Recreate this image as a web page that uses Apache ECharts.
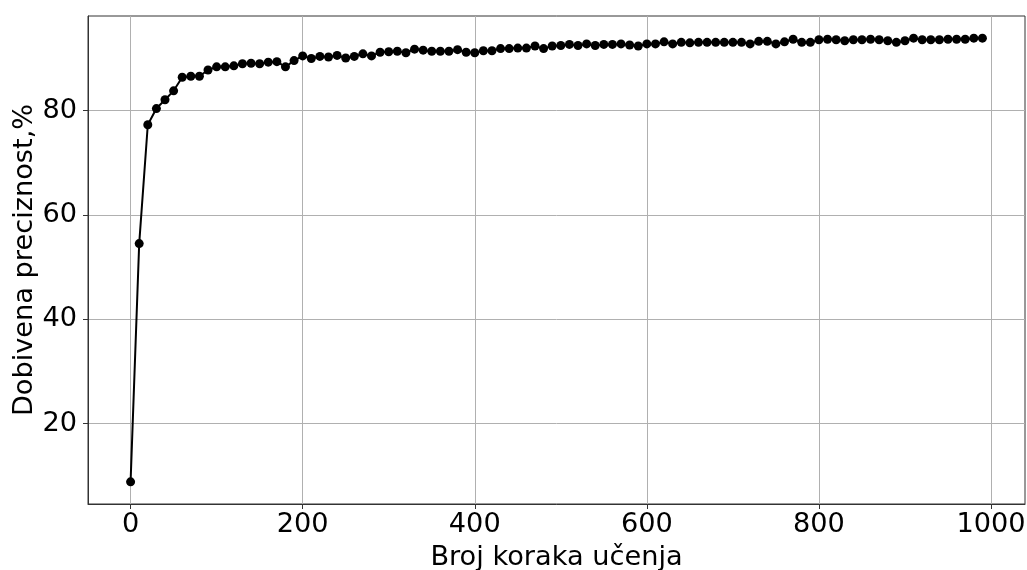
<!DOCTYPE html>
<html>
<head>
<meta charset="utf-8">
<script src="https://cdn.jsdelivr.net/npm/echarts@6/dist/echarts.min.js"></script>
<style>
html,body{margin:0;padding:0;background:#fff;}
#c{width:1027px;height:570px;}
</style>
</head>
<body>
<div id="c"></div>
<script>
var steps = [0,10,20,30,40,50,60,70,80,90,100,110,120,130,140,150,160,170,180,190,
200,210,220,230,240,250,260,270,280,290,300,310,320,330,340,350,360,370,380,390,
400,410,420,430,440,450,460,470,480,490,500,510,520,530,540,550,560,570,580,590,
600,610,620,630,640,650,660,670,680,690,700,710,720,730,740,750,760,770,780,790,
800,810,820,830,840,850,860,870,880,890,900,910,920,930,940,950,960,970,980,990];
var accuracy = [8.8,54.5,77.3,80.4,82.1,83.8,86.4,86.6,86.6,87.8,
88.4,88.4,88.6,89.0,89.1,89.0,89.3,89.4,88.4,89.6,
90.5,90.0,90.4,90.3,90.6,90.1,90.4,90.9,90.5,91.2,
91.3,91.4,91.1,91.8,91.6,91.4,91.4,91.4,91.7,91.2,
91.1,91.5,91.5,91.9,91.9,92.0,92.0,92.4,91.9,92.4,
92.5,92.7,92.5,92.8,92.5,92.7,92.7,92.8,92.6,92.4,
92.8,92.8,93.2,92.8,93.1,93.0,93.1,93.1,93.1,93.1,
93.1,93.1,92.8,93.3,93.3,92.8,93.2,93.7,93.1,93.1,
93.6,93.7,93.6,93.4,93.6,93.6,93.7,93.6,93.4,93.1,
93.4,93.9,93.6,93.6,93.6,93.7,93.7,93.7,93.9,93.9];
var xTicks = [0,200,400,600,800,1000];
var yTicks = [20,40,60,80];
var xLabel = 'Broj koraka učenja';
var yLabel = 'Dobivena preciznost,%';

var pts = steps.map(function(s,i){return [s, accuracy[i]];});
var xmin0 = steps[0], xmax0 = steps[steps.length-1];
var ymin0 = Math.min.apply(null, accuracy), ymax0 = Math.max.apply(null, accuracy);
var xm = (xmax0 - xmin0) * 0.05, ym = (ymax0 - ymin0) * 0.05;
var FONT = 'DejaVu Sans';
var FS = 27.2;

var chart = echarts.init(document.getElementById('c'), null, {renderer:'canvas'});
chart.setOption({
  animation: false,
  backgroundColor: '#fff',
  grid: {left: 88, right: 2, top: 16, bottom: 66, show: true, borderColor: '#333', borderWidth: 1,
         backgroundColor: 'transparent', containLabel: false, outerBoundsMode: 'none'},
  xAxis: {
    type: 'value', min: xmin0 - xm, max: xmax0 + xm,
    name: xLabel, nameLocation: 'middle', nameGap: 40, nameMoveOverlap: false,
    nameTextStyle: {fontFamily: FONT, fontSize: FS, color: '#000'},
    axisLine: {show: true, onZero: false, lineStyle: {color: '#333', width: 1}},
    axisTick: {show: true, length: 5, lineStyle: {color: '#333'}, customValues: xTicks},
    axisLabel: {fontFamily: FONT, fontSize: FS, color: '#000', margin: 7, customValues: xTicks,
                formatter: function(v){return String(v);}},
    splitLine: {show: true, lineStyle: {color: '#b0b0b0', width: 1}}
  },
  yAxis: {
    type: 'value', min: ymin0 - ym, max: ymax0 + ym,
    name: yLabel, nameLocation: 'middle', nameGap: 50, nameMoveOverlap: false,
    nameTextStyle: {fontFamily: FONT, fontSize: FS, color: '#000'},
    axisLine: {show: true, onZero: false, lineStyle: {color: '#333', width: 1}},
    axisTick: {show: true, length: 5, lineStyle: {color: '#333'}, customValues: yTicks},
    axisLabel: {fontFamily: FONT, fontSize: FS, color: '#000', margin: 11, customValues: yTicks,
                formatter: function(v){return String(v);}},
    splitLine: {show: true, lineStyle: {color: '#b0b0b0', width: 1}}
  },
  series: [{
    type: 'line', data: pts,
    symbol: 'circle', symbolSize: 9, showAllSymbol: true,
    itemStyle: {color: '#000'},
    lineStyle: {color: '#000', width: 2},
    z: 3
  }]
});
</script>
</body>
</html>
